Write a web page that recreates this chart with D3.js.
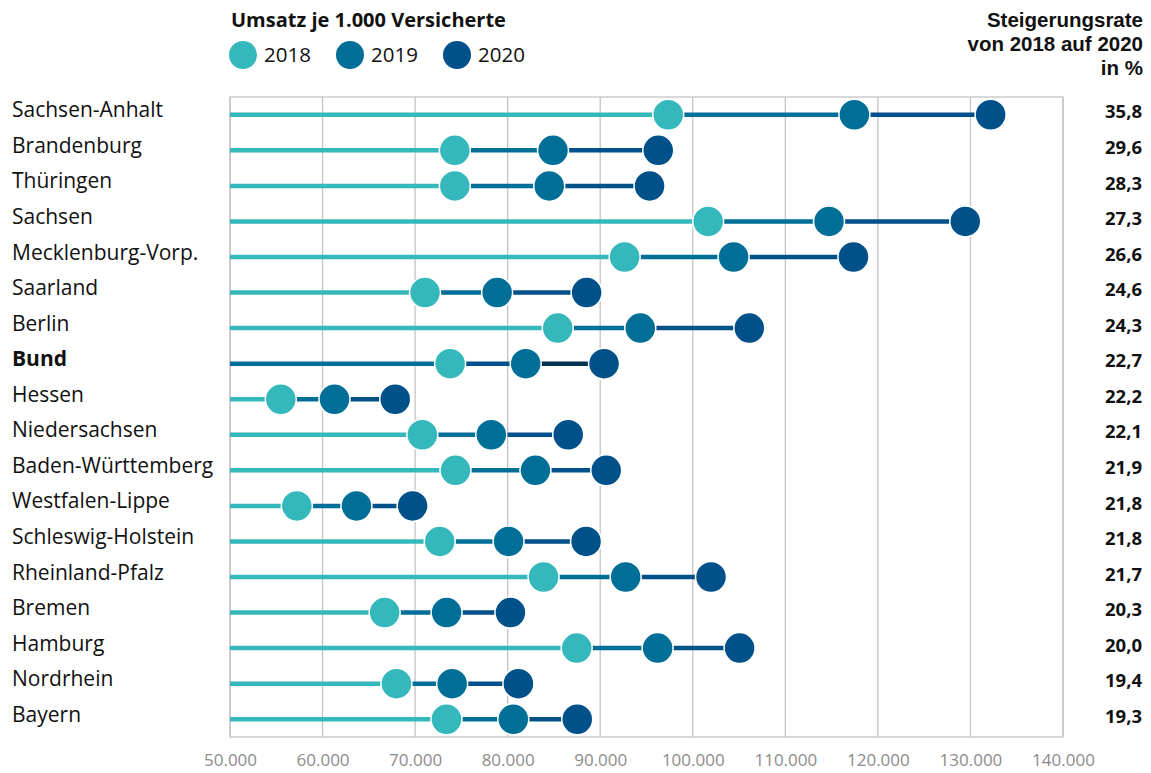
<!DOCTYPE html>
<html>
<head>
<meta charset="utf-8">
<script src="https://cdn.jsdelivr.net/npm/d3@7"></script>
<style>
  body { margin: 0; background: #fff; }
  svg text { font-family: "Open Sans", Lato, sans-serif; }
</style>
</head>
<body>
<svg width="1151" height="773"></svg>
<script>
// Daten: Umsatz je 1.000 Versicherte
var laender = ["Sachsen-Anhalt", "Brandenburg", "Thüringen", "Sachsen", "Mecklenburg-Vorp.",
  "Saarland", "Berlin", "Bund", "Hessen", "Niedersachsen", "Baden-Württemberg",
  "Westfalen-Lippe", "Schleswig-Holstein", "Rheinland-Pfalz", "Bremen", "Hamburg",
  "Nordrhein", "Bayern"];
var werte2018 = [97350, 74290, 74290, 101660, 92640, 71070, 85410, 73780, 55490, 70780,
  74360, 57220, 72660, 83880, 66710, 87460, 67980, 73390];
var werte2019 = [117460, 84900, 84490, 114720, 104410, 78860, 94330, 81950, 61290, 78230,
  83000, 63660, 80100, 92750, 73400, 96200, 74000, 80610];
var werte2020 = [132180, 96270, 95330, 129440, 117360, 88530, 106110, 90410, 67850, 86540,
  90650, 69730, 88470, 101970, 80300, 105060, 81160, 87520];
var steigerung = ["35,8", "29,6", "28,3", "27,3", "26,6", "24,6", "24,3", "22,7", "22,2",
  "22,1", "21,9", "21,8", "21,8", "21,7", "20,3", "20,0", "19,4", "19,3"];
var jahre = ["2018", "2019", "2020"];
var xTicks = [50000, 60000, 70000, 80000, 90000, 100000, 110000, 120000, 130000, 140000];

var farben = ["#35b8bc", "#006f97", "#00508a"];
var farbeDunkel = "#00304f";

var svg = d3.select("svg"),
  margin = { top: 97, right: 88, bottom: 36, left: 230 },
  width = +svg.attr("width") - margin.left - margin.right,
  height = +svg.attr("height") - margin.top - margin.bottom;

var g = svg.append("g")
  .attr("transform", "translate(" + margin.left + "," + margin.top + ")");

var x = d3.scaleLinear().domain([50000, 140000]).range([0, width]);
var y = d3.scaleBand().domain(laender).range([0, height]).padding(0);

// Gitterlinien
g.selectAll(".grid")
  .data(xTicks)
  .enter().append("line")
  .attr("x1", function (d) { return x(d); })
  .attr("x2", function (d) { return x(d); })
  .attr("y1", 0)
  .attr("y2", height)
  .attr("stroke", "#c4c4c4")
  .attr("stroke-width", 1.3);

g.append("rect")
  .attr("x", 0).attr("y", 0)
  .attr("width", width).attr("height", height)
  .attr("fill", "none")
  .attr("stroke", "#c4c4c4")
  .attr("stroke-width", 1.3);

// x-Achse
var xAxis = g.append("g")
  .attr("transform", "translate(0," + height + ")")
  .call(d3.axisBottom(x).tickValues(xTicks).tickSize(0).tickPadding(17)
    .tickFormat(function (d) { return d3.format(",")(d).replace(/,/g, "."); }));
xAxis.select(".domain").remove();
xAxis.selectAll("text")
  .attr("fill", "#8c8c8c")
  .style("font-family", "'Open Sans', sans-serif")
  .style("font-size", "17px");

// Zeilen
var rows = laender.map(function (name, i) {
  return { name: name, v: [werte2018[i], werte2019[i], werte2020[i]], rate: steigerung[i] };
});

var row = g.selectAll(".row")
  .data(rows)
  .enter().append("g")
  .attr("class", "row")
  .attr("transform", function (d) { return "translate(0," + (y(d.name) + y.bandwidth() / 2) + ")"; });

row.each(function (d) {
  var r = d3.select(this);
  var bund = d.name === "Bund";
  var segs = [
    [50000, d.v[0], bund ? farben[1] : farben[0]],
    [d.v[0], d.v[1], bund ? farben[2] : farben[1]],
    [d.v[1], d.v[2], bund ? farbeDunkel : farben[2]]
  ];
  r.selectAll("line")
    .data(segs)
    .enter().append("line")
    .attr("x1", function (s) { return x(s[0]); })
    .attr("x2", function (s) { return x(s[1]); })
    .attr("stroke", function (s) { return s[2]; })
    .attr("stroke-width", 4.5);
  r.selectAll("circle")
    .data(d.v)
    .enter().append("circle")
    .attr("cx", function (v) { return x(v); })
    .attr("r", 15.5)
    .attr("fill", function (v, k) { return farben[k]; })
    .attr("stroke", "#fff")
    .attr("stroke-width", 1.5);
});

// Ländernamen
row.append("text")
  .attr("x", -218)
  .attr("y", -5)
  .attr("dy", "0.36em")
  .style("font-size", "21px")
  .style("font-weight", function (d) { return d.name === "Bund" ? "bold" : "normal"; })
  .attr("fill", "#111")
  .text(function (d) { return d.name; });

// Steigerungsraten
row.append("text")
  .attr("x", width + 79)
  .attr("y", -3)
  .attr("dy", "0.36em")
  .attr("text-anchor", "end")
  .style("font-size", "18.5px")
  .style("font-weight", "bold")
  .attr("fill", "#111")
  .text(function (d) { return d.rate; });

// Legende
svg.append("text")
  .attr("x", 231).attr("y", 27)
  .style("font-size", "20px").style("font-weight", "bold")
  .attr("fill", "#111")
  .text("Umsatz je 1.000 Versicherte");

var legPos = [243, 350, 457];
var leg = svg.selectAll(".leg")
  .data(jahre)
  .enter().append("g")
  .attr("transform", function (d, i) { return "translate(" + legPos[i] + ",55)"; });
leg.append("circle").attr("r", 14).attr("fill", function (d, i) { return farben[i]; });
leg.append("text")
  .attr("x", 21).attr("dy", "0.36em")
  .style("font-size", "20.5px")
  .attr("fill", "#111")
  .text(function (d) { return d; });

// Kopf rechts (engere Zeilen -> Liberation Sans)
var kopf = ["Steigerungsrate", "von 2018 auf 2020", "in %"];
svg.selectAll(".kopf")
  .data(kopf)
  .enter().append("text")
  .attr("x", 1143)
  .attr("y", function (d, i) { return 27 + i * 24; })
  .attr("text-anchor", "end")
  .style("font-family", "'Liberation Sans', Arial, sans-serif")
  .style("font-size", "20.5px").style("font-weight", "bold")
  .attr("fill", "#111")
  .text(function (d) { return d; });
</script>
</body>
</html>
